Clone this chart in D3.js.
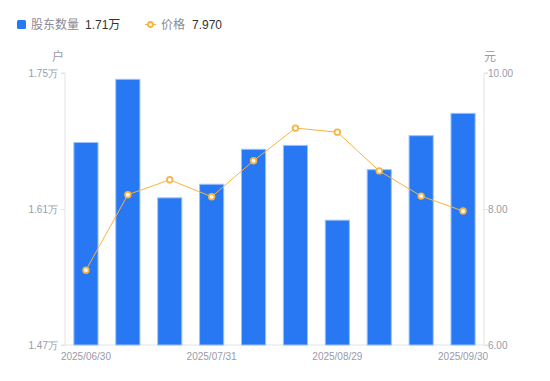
<!DOCTYPE html>
<html><head><meta charset="utf-8">
<script src="https://cdn.jsdelivr.net/npm/d3@7"></script>
<style>html,body{margin:0;padding:0;background:#fff;}svg{display:block;font-family:"Liberation Sans",Arial,"Noto Sans CJK SC",sans-serif;}</style>
</head><body>
<svg id="c" width="550" height="381"></svg>
<script>
const categories = ["2025/06/30","2025/07/15","2025/07/20","2025/07/31","2025/08/10","2025/08/15","2025/08/29","2025/09/10","2025/09/19","2025/09/30"];
const holders = [1.679,1.744,1.622,1.636,1.672,1.676,1.599,1.651,1.686,1.709];
const price = [7.10,8.21,8.43,8.18,8.71,9.19,9.13,8.56,8.19,7.97];
const leftTicks = [1.47,1.61,1.75];
const rightTicks = [6,8,10];
const shownDates = ["2025/06/30","2025/07/31","2025/08/29","2025/09/30"];

const svg = d3.select("#c");
const L = 65, R = 484, T = 73, B = 345;
const x = d3.scaleBand().domain(categories).range([L,R]).paddingInner(0.4).paddingOuter(0.2);
const yL = d3.scaleLinear().domain([1.47,1.75]).range([B,T]);
const yR = d3.scaleLinear().domain([6,10]).range([B,T]);
const axisCol = "#e3e3e6", textCol = "#9a9aa8";

// axes
const gl = svg.append("g").attr("transform",`translate(${L},0)`)
  .call(d3.axisLeft(yL).tickValues(leftTicks).tickSize(4).tickFormat(d=>d.toFixed(2)+"万"));
const gr = svg.append("g").attr("transform",`translate(${R},0)`)
  .call(d3.axisRight(yR).tickValues(rightTicks).tickSize(4).tickFormat(d=>d.toFixed(2)));
[gl,gr].forEach(g=>{
  g.select(".domain").attr("stroke",axisCol);
  g.selectAll(".tick line").attr("stroke",axisCol);
  g.selectAll(".tick text").attr("fill",textCol).style("font-size","10px");
});
gl.selectAll(".tick text").attr("x",-7);
gr.selectAll(".tick text").attr("x",4);
gl.select(".domain").attr("d",`M-4,${T}H0V${B}H-4`);
gr.select(".domain").attr("d",`M4,${T}H0V${B}H4`);

const gx = svg.append("g").attr("transform",`translate(0,${B})`)
  .call(d3.axisBottom(x).tickValues(shownDates).tickSize(0).tickPadding(8));
gx.select(".domain").attr("stroke",axisCol).attr("d",`M${L},0H${R}`);
gx.selectAll(".tick text").attr("fill",textCol).style("font-size","10px");

// unit labels
svg.append("text").attr("x",58).attr("y",61).attr("text-anchor","middle").attr("fill",textCol).style("font-size","12px").text("户");
svg.append("text").attr("x",490).attr("y",61).attr("text-anchor","middle").attr("fill",textCol).style("font-size","12px").text("元");

// bars
svg.append("g").selectAll("rect").data(categories).join("rect")
  .attr("x",d=>x(d)+0.5).attr("width",x.bandwidth()-1)
  .attr("y",(d,i)=>yL(holders[i])+0.5).attr("height",(d,i)=>B-yL(holders[i])-0.5)
  .attr("fill","#2778f2").attr("stroke","#9cc2fa").attr("stroke-width",1);

// line
const line = d3.line().x((d,i)=>x(categories[i])+x.bandwidth()/2).y(d=>yR(d));
svg.append("path").datum(price).attr("d",line).attr("fill","none").attr("stroke","#f8b440").attr("stroke-width",1);
svg.append("g").selectAll("circle").data(price).join("circle")
  .attr("cx",(d,i)=>x(categories[i])+x.bandwidth()/2).attr("cy",d=>yR(d)).attr("r",2.8)
  .attr("fill","#fff").attr("stroke","#f8b440").attr("stroke-width",1.8);

// legend
const lg = svg.append("g").style("font-size","12px");
lg.append("rect").attr("x",17).attr("y",20).attr("width",9).attr("height",9).attr("rx",1.5).attr("fill","#2778f2");
lg.append("text").attr("x",31).attr("y",29).attr("fill","#8a8a96").text("股东数量");
lg.append("text").attr("x",85).attr("y",29).attr("fill","#333").text("1.71万");
lg.append("line").attr("x1",145).attr("x2",156).attr("y1",24.5).attr("y2",24.5).attr("stroke","#f8b440").attr("stroke-width",1);
lg.append("circle").attr("cx",150.5).attr("cy",24.5).attr("r",2.5).attr("fill","#fff").attr("stroke","#f8b440").attr("stroke-width",1.8);
lg.append("text").attr("x",161).attr("y",29).attr("fill","#8a8a96").text("价格");
lg.append("text").attr("x",192).attr("y",29).attr("fill","#333").text("7.970");
</script>
</body></html>
